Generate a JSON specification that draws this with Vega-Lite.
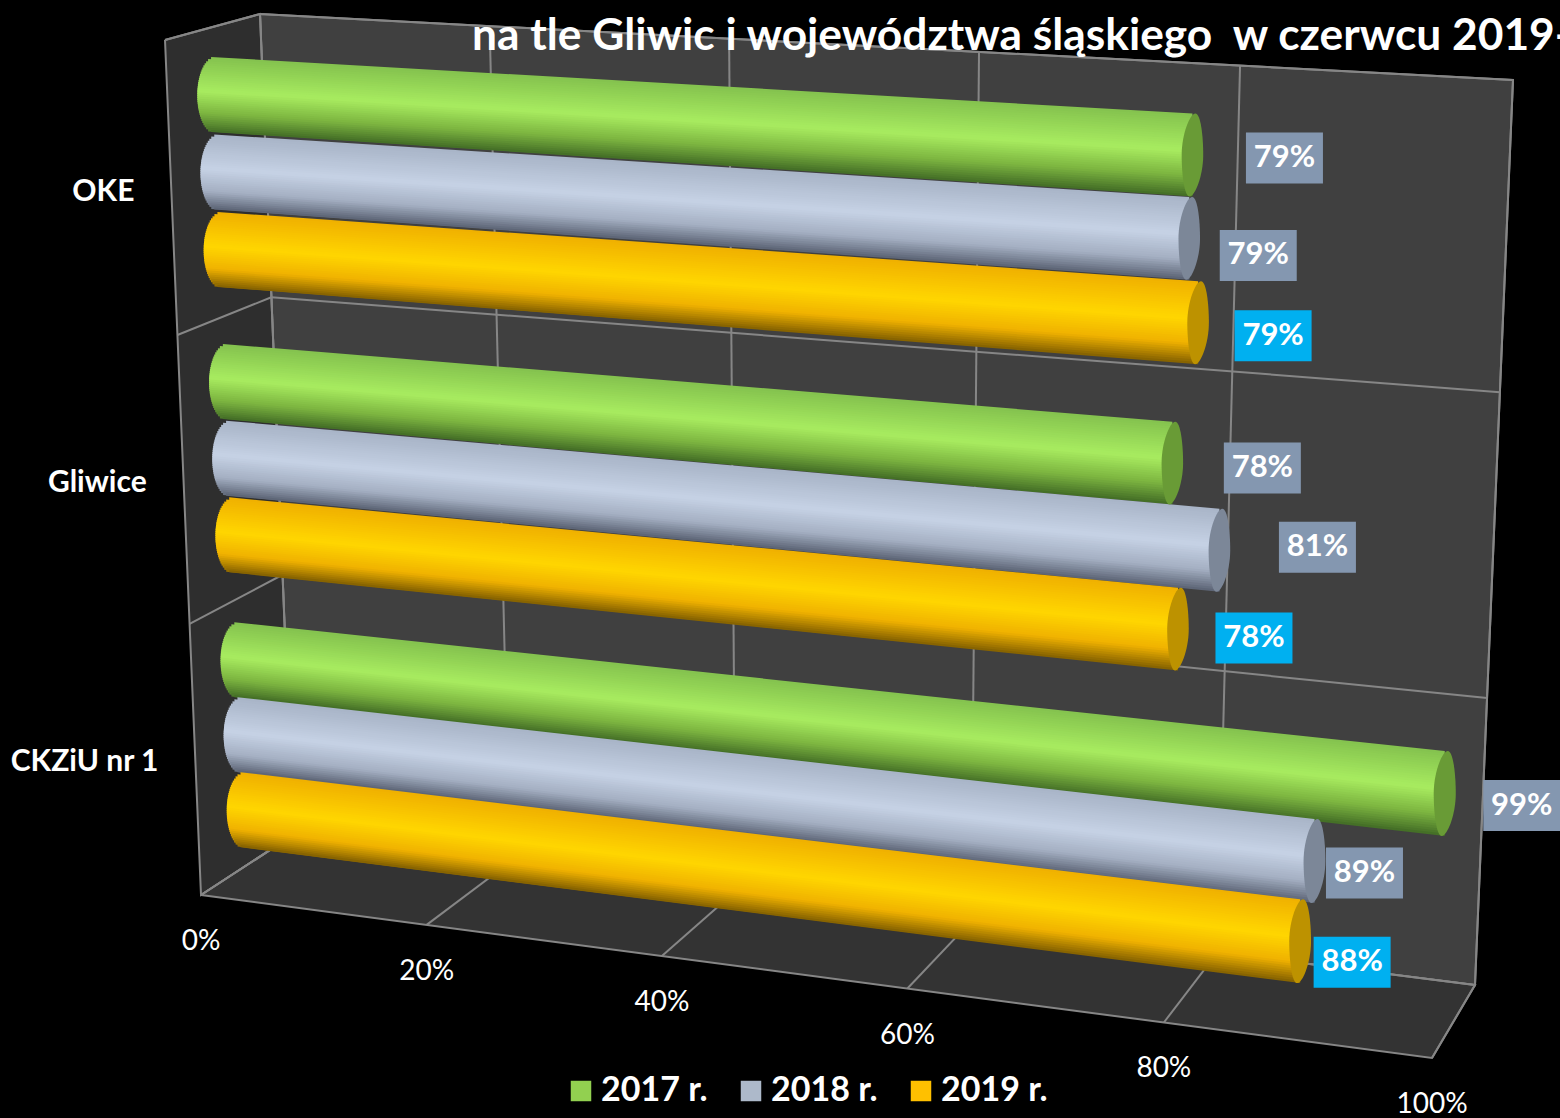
{
"$schema":"https://vega.github.io/schema/vega-lite/v6.json",
"width":1560,"height":1118,"autosize":{"type":"none"},"padding":0,"background":"#000000",
"config":{"view":{"stroke":null}},
"datasets":{
"bars":[
{"group":"OKE","year":"2017 r.","value":78.7},{"group":"OKE","year":"2018 r.","value":78.6},{"group":"OKE","year":"2019 r.","value":79.4},
{"group":"Gliwice","year":"2017 r.","value":77.7},{"group":"Gliwice","year":"2018 r.","value":81.4},{"group":"Gliwice","year":"2019 r.","value":78.4},
{"group":"CKZiU nr 1","year":"2017 r.","value":98.7},{"group":"CKZiU nr 1","year":"2018 r.","value":89.2},{"group":"CKZiU nr 1","year":"2019 r.","value":88.3}],
"ticks":[{"pct":0},{"pct":20},{"pct":40},{"pct":60},{"pct":80},{"pct":100}],
"rows":[{"q":0},{"q":0.345},{"q":0.683},{"q":1}],
"walls":[
{"wall":"left","step":0,"a":0,"q":0,"w":1},{"wall":"left","step":1,"a":0,"q":0,"w":0},{"wall":"left","step":2,"a":0,"q":1,"w":0},{"wall":"left","step":3,"a":0,"q":1,"w":1},{"wall":"left","step":4,"a":0,"q":0,"w":1},
{"wall":"floor","step":0,"a":0,"q":1,"w":1},{"wall":"floor","step":1,"a":0,"q":1,"w":0},{"wall":"floor","step":2,"a":1,"q":1,"w":0},{"wall":"floor","step":3,"a":1,"q":1,"w":1},{"wall":"floor","step":4,"a":0,"q":1,"w":1},
{"wall":"back","step":0,"a":0,"q":0,"w":0},{"wall":"back","step":1,"a":1,"q":0,"w":0},{"wall":"back","step":2,"a":1,"q":1,"w":0},{"wall":"back","step":3,"a":0,"q":1,"w":0},{"wall":"back","step":4,"a":0,"q":0,"w":0}],
"heading":[{"text":"na tle Gliwic i województwa śląskiego\u00a0 w czerwcu 2019-"}]
},
"layer":[
{"data":{"name":"walls"},"transform":[{"filter":"datum.wall=='back'"},
 {"calculate":"260+33*datum.q-95*datum.w+3*datum.q*datum.w+(1253-71*datum.q+49*datum.w)*datum.a","as":"px"},
 {"calculate":"14+821*datum.q+26*datum.w+34*datum.q*datum.w+(66+84*datum.q+12*datum.w+datum.q*datum.w)*datum.a","as":"py"}],
 "mark":{"type":"line","fill":"#404040","stroke":"#868686","strokeWidth":2},
 "encoding":{"x":{"field":"px","type":"quantitative","scale":{"domain":[0,1560]},"axis":null},"y":{"field":"py","type":"quantitative","scale":{"domain":[0,1118],"reverse":true},"axis":null},"order":{"field":"step"}}},
{"data":{"name":"walls"},"transform":[{"filter":"datum.wall=='left'"},
 {"calculate":"260+33*datum.q-95*datum.w+3*datum.q*datum.w+(1253-71*datum.q+49*datum.w)*datum.a","as":"px"},
 {"calculate":"14+821*datum.q+26*datum.w+34*datum.q*datum.w+(66+84*datum.q+12*datum.w+datum.q*datum.w)*datum.a","as":"py"}],
 "mark":{"type":"line","fill":"#2e2e2e","stroke":"#868686","strokeWidth":2},
 "encoding":{"x":{"field":"px","type":"quantitative","scale":{"domain":[0,1560]},"axis":null},"y":{"field":"py","type":"quantitative","scale":{"domain":[0,1118],"reverse":true},"axis":null},"order":{"field":"step"}}},
{"data":{"name":"walls"},"transform":[{"filter":"datum.wall=='floor'"},
 {"calculate":"260+33*datum.q-95*datum.w+3*datum.q*datum.w+(1253-71*datum.q+49*datum.w)*datum.a","as":"px"},
 {"calculate":"14+821*datum.q+26*datum.w+34*datum.q*datum.w+(66+84*datum.q+12*datum.w+datum.q*datum.w)*datum.a","as":"py"}],
 "mark":{"type":"line","fill":"#333333","stroke":"#868686","strokeWidth":2},
 "encoding":{"x":{"field":"px","type":"quantitative","scale":{"domain":[0,1560]},"axis":null},"y":{"field":"py","type":"quantitative","scale":{"domain":[0,1118],"reverse":true},"axis":null},"order":{"field":"step"}}},
{"data":{"name":"ticks"},"transform":[{"calculate":"datum.pct/100","as":"a"},{"calculate":"datum.a/(1+0.114*(1-datum.a))","as":"t"},
 {"calculate":"260+1253*datum.t","as":"x1"},{"calculate":"14+66*datum.t","as":"y1"},{"calculate":"293+1182*datum.t","as":"x2"},{"calculate":"835+150*datum.t","as":"y2"}],
 "mark":{"type":"rule","stroke":"#868686","strokeWidth":2},
 "encoding":{"x":{"field":"x1","type":"quantitative","scale":{"domain":[0,1560]},"axis":null},"y":{"field":"y1","type":"quantitative","scale":{"domain":[0,1118],"reverse":true},"axis":null},"x2":{"field":"x2"},"y2":{"field":"y2"}}},
{"data":{"name":"ticks"},"transform":[{"calculate":"datum.pct/100","as":"a"},{"calculate":"datum.a/(1+0.114*(1-datum.a))","as":"t"},
 {"calculate":"293+1182*datum.t","as":"x1"},{"calculate":"835+150*datum.t","as":"y1"},{"calculate":"201+1231*datum.t","as":"x2"},{"calculate":"895+163*datum.t","as":"y2"}],
 "mark":{"type":"rule","stroke":"#868686","strokeWidth":2},
 "encoding":{"x":{"field":"x1","type":"quantitative","scale":{"domain":[0,1560]},"axis":null},"y":{"field":"y1","type":"quantitative","scale":{"domain":[0,1118],"reverse":true},"axis":null},"x2":{"field":"x2"},"y2":{"field":"y2"}}},
{"data":{"name":"rows"},"transform":[
 {"calculate":"260+33*datum.q","as":"x1"},{"calculate":"14+821*datum.q","as":"y1"},{"calculate":"1513-38*datum.q","as":"x2"},{"calculate":"80+905*datum.q","as":"y2"}],
 "mark":{"type":"rule","stroke":"#868686","strokeWidth":2},
 "encoding":{"x":{"field":"x1","type":"quantitative","scale":{"domain":[0,1560]},"axis":null},"y":{"field":"y1","type":"quantitative","scale":{"domain":[0,1118],"reverse":true},"axis":null},"x2":{"field":"x2"},"y2":{"field":"y2"}}},
{"data":{"name":"rows"},"transform":[
 {"calculate":"165+36*datum.q","as":"x1"},{"calculate":"40+855*datum.q","as":"y1"},{"calculate":"260+33*datum.q","as":"x2"},{"calculate":"14+821*datum.q","as":"y2"}],
 "mark":{"type":"rule","stroke":"#868686","strokeWidth":2},
 "encoding":{"x":{"field":"x1","type":"quantitative","scale":{"domain":[0,1560]},"axis":null},"y":{"field":"y1","type":"quantitative","scale":{"domain":[0,1118],"reverse":true},"axis":null},"x2":{"field":"x2"},"y2":{"field":"y2"}}},
{"data":{"name":"bars"},"transform":[
 {"calculate":"indexof(['OKE','Gliwice','CKZiU nr 1'],datum.group)","as":"g"},
 {"calculate":"indexof(['2017 r.','2018 r.','2019 r.'],datum.year)","as":"k"},
 {"calculate":"[0.0805,0.423,0.755][datum.g]+[0.0925,0.0915,0.0895][datum.g]*datum.k","as":"q"},
 {"calculate":"[0,datum.value/100]","as":"a"},{"flatten":["a"]},
 {"calculate":"[0,1,2,3,4,5,6,7,8,9,10,11,12,13,14,15,16,17,18,19,20,21,22,23,24,25,26,27,28,29,30,31,32,33,34,35]","as":"b"},{"flatten":["b"]},
 {"calculate":"(datum.b+0.5)/36","as":"f"},
 {"calculate":"datum.a/(1+0.114*(1-datum.a))","as":"t"},
 {"calculate":"37.5+5*datum.a","as":"h"},
 {"calculate":"260+33*datum.q-47.5+1.5*datum.q+(1253-71*datum.q+24.5)*datum.t-(datum.a==0?18*sqrt(1-pow(2*datum.f-1,2)):0)","as":"cx"},
 {"calculate":"14+821*datum.q+13+17*datum.q+(66+84*datum.q+6+0.5*datum.q)*datum.t","as":"cy"},
 {"calculate":"datum.cy+datum.h*(2*datum.b/36-1)","as":"top"},
 {"calculate":"datum.cy+datum.h*(2*(datum.b+1)/36-1)+(datum.b<35?1.5:0)","as":"bot"},
 {"calculate":"{'2017 r.':[[132,194,78],[168,236,96],[124,180,64],[66,108,38]],'2018 r.':[[168,180,199],[198,210,229],[164,175,194],[90,98,115]],'2019 r.':[[240,176,0],[255,214,0],[240,178,0],[130,95,0]]}[datum.year]","as":"pal"},
 {"calculate":"datum.f<0.45?0:(datum.f<0.75?1:2)","as":"i"},
 {"calculate":"datum.i==0?datum.f/0.45:(datum.i==1?(datum.f-0.45)/0.3:(datum.f-0.75)/0.25)","as":"m"},
 {"calculate":"'rgb('+round(datum.pal[datum.i][0]+(datum.pal[datum.i+1][0]-datum.pal[datum.i][0])*datum.m)+','+round(datum.pal[datum.i][1]+(datum.pal[datum.i+1][1]-datum.pal[datum.i][1])*datum.m)+','+round(datum.pal[datum.i][2]+(datum.pal[datum.i+1][2]-datum.pal[datum.i][2])*datum.m)+')'","as":"shade"},
 {"calculate":"datum.group+datum.year+datum.b","as":"strip"}],
 "mark":{"type":"area","orient":"vertical","interpolate":"linear"},
 "encoding":{"x":{"field":"cx","type":"quantitative","scale":{"domain":[0,1560]},"axis":null},"y":{"field":"top","type":"quantitative","scale":{"domain":[0,1118],"reverse":true},"axis":null,"stack":null},"y2":{"field":"bot"},
  "color":{"field":"shade","type":"nominal","scale":null},"detail":{"field":"strip"}}},
{"data":{"name":"bars"},"transform":[
 {"calculate":"indexof(['OKE','Gliwice','CKZiU nr 1'],datum.group)","as":"g"},
 {"calculate":"indexof(['2017 r.','2018 r.','2019 r.'],datum.year)","as":"k"},
 {"calculate":"[0.0805,0.423,0.755][datum.g]+[0.0925,0.0915,0.0895][datum.g]*datum.k","as":"q"},
 {"calculate":"datum.value/100","as":"a"},
 {"calculate":"datum.a/(1+0.114*(1-datum.a))","as":"t"},
 {"calculate":"4*pow(37.5+5*datum.a,2)","as":"r2"},
 {"calculate":"260+33*datum.q-47.5+1.5*datum.q+(1253-71*datum.q+24.5)*datum.t","as":"cx"},
 {"calculate":"14+821*datum.q+13+17*datum.q+(66+84*datum.q+6+0.5*datum.q)*datum.t","as":"cy"}],
 "mark":{"type":"point","filled":true,"opacity":1,"strokeWidth":0,"shape":"M0.07,-1C0.2,-1 0.26,-0.45 0.26,0C0.26,0.5 0.06,1 -0.07,1C-0.2,1 -0.26,0.45 -0.26,0C-0.26,-0.5 -0.06,-1 0.07,-1Z"},
 "encoding":{"x":{"field":"cx","type":"quantitative","scale":{"domain":[0,1560]},"axis":null},"y":{"field":"cy","type":"quantitative","scale":{"domain":[0,1118],"reverse":true},"axis":null},
  "size":{"field":"r2","type":"quantitative","scale":null},
  "color":{"field":"year","type":"nominal","scale":{"domain":["2017 r.","2018 r.","2019 r."],"range":["#699b36","#7c8798","#bd9200"]},"legend":null}}},
{"data":{"name":"bars"},"transform":[
 {"calculate":"indexof(['OKE','Gliwice','CKZiU nr 1'],datum.group)","as":"g"},
 {"calculate":"indexof(['2017 r.','2018 r.','2019 r.'],datum.year)","as":"k"},
 {"calculate":"datum.g*3+datum.k","as":"n"},
 {"calculate":"[0.0805,0.423,0.755][datum.g]+[0.0925,0.0915,0.0895][datum.g]*datum.k","as":"q"},
 {"calculate":"datum.value/100","as":"a"},
 {"calculate":"datum.a/(1+0.114*(1-datum.a))","as":"t"},
 {"calculate":"260+33*datum.q-47.5+1.5*datum.q+(1253-71*datum.q+24.5)*datum.t+[92,69,75,90,98,76,77,50,52][datum.n]","as":"lx"},
 {"calculate":"14+821*datum.q+13+17*datum.q+(66+84*datum.q+6+0.5*datum.q)*datum.t+[3,17,13,5,-3,9,12,12,21][datum.n]","as":"ly"},
 {"calculate":"datum.lx-38.5","as":"l"},{"calculate":"datum.lx+38.5","as":"r"},{"calculate":"datum.ly-25.5","as":"u"},{"calculate":"datum.ly+25.5","as":"d"}],
 "mark":{"type":"rect"},
 "encoding":{"x":{"field":"l","type":"quantitative","scale":{"domain":[0,1560]},"axis":null},"x2":{"field":"r"},"y":{"field":"u","type":"quantitative","scale":{"domain":[0,1118],"reverse":true},"axis":null},"y2":{"field":"d"},
  "color":{"field":"year","type":"nominal","scale":{"domain":["2017 r.","2018 r.","2019 r."],"range":["#8497b0","#8497b0","#00b0f0"]},"legend":null}}},
{"data":{"name":"bars"},"transform":[
 {"calculate":"indexof(['OKE','Gliwice','CKZiU nr 1'],datum.group)","as":"g"},
 {"calculate":"indexof(['2017 r.','2018 r.','2019 r.'],datum.year)","as":"k"},
 {"calculate":"datum.g*3+datum.k","as":"n"},
 {"calculate":"[0.0805,0.423,0.755][datum.g]+[0.0925,0.0915,0.0895][datum.g]*datum.k","as":"q"},
 {"calculate":"datum.value/100","as":"a"},
 {"calculate":"datum.a/(1+0.114*(1-datum.a))","as":"t"},
 {"calculate":"260+33*datum.q-47.5+1.5*datum.q+(1253-71*datum.q+24.5)*datum.t+[92,69,75,90,98,76,77,50,52][datum.n]","as":"lx"},
 {"calculate":"14+821*datum.q+13+17*datum.q+(66+84*datum.q+6+0.5*datum.q)*datum.t+[3,17,13,5,-3,9,12,12,21][datum.n]","as":"ly"},
 {"calculate":"format(datum.value,'.0f')+'%'","as":"label"}],
 "mark":{"type":"text","font":"Lato","fontWeight":"bold","fontSize":31,"color":"#ffffff","align":"center","baseline":"middle"},
 "encoding":{"x":{"field":"lx","type":"quantitative","scale":{"domain":[0,1560]},"axis":null},"y":{"field":"ly","type":"quantitative","scale":{"domain":[0,1118],"reverse":true},"axis":null},"text":{"field":"label"}}},
{"data":{"name":"ticks"},"transform":[{"calculate":"datum.pct/100","as":"a"},{"calculate":"datum.a/(1+0.114*(1-datum.a))","as":"t"},
 {"calculate":"201+1231*datum.t","as":"lx"},{"calculate":"895+163*datum.t+47","as":"ly"},{"calculate":"datum.pct+'%'","as":"label"}],
 "mark":{"type":"text","font":"Lato","fontSize":28,"color":"#ffffff","align":"center","baseline":"middle"},
 "encoding":{"x":{"field":"lx","type":"quantitative","scale":{"domain":[0,1560]},"axis":null},"y":{"field":"ly","type":"quantitative","scale":{"domain":[0,1118],"reverse":true},"axis":null},"text":{"field":"label"}}},
{"data":{"name":"bars"},"transform":[{"filter":"datum.year=='2017 r.'"},
 {"calculate":"[0.178,0.518,0.845][indexof(['OKE','Gliwice','CKZiU nr 1'],datum.group)]","as":"q"},
 {"calculate":"165+36*datum.q-37","as":"lx"},{"calculate":"40+855*datum.q","as":"ly"}],
 "mark":{"type":"text","font":"Lato","fontWeight":"bold","fontSize":30,"color":"#ffffff","align":"right","baseline":"middle"},
 "encoding":{"x":{"field":"lx","type":"quantitative","scale":{"domain":[0,1560]},"axis":null},"y":{"field":"ly","type":"quantitative","scale":{"domain":[0,1118],"reverse":true},"axis":null},"text":{"field":"group"}}},
{"data":{"name":"heading"},
 "mark":{"type":"text","font":"Lato","fontWeight":"bold","fontSize":44.3,"color":"#ffffff","align":"left","baseline":"middle"},
 "encoding":{"x":{"datum":472,"type":"quantitative","scale":{"domain":[0,1560]},"axis":null},"y":{"datum":37,"type":"quantitative","scale":{"domain":[0,1118],"reverse":true},"axis":null},"text":{"field":"text"}}},
{"data":{"name":"bars"},"transform":[{"calculate":"215","as":"lx"},{"calculate":"95","as":"ly"}],
 "mark":{"type":"point","filled":true,"opacity":0},
 "encoding":{"x":{"field":"lx","type":"quantitative","scale":{"domain":[0,1560]},"axis":null},"y":{"field":"ly","type":"quantitative","scale":{"domain":[0,1118],"reverse":true},"axis":null},
  "color":{"field":"year","type":"nominal","scale":{"domain":["2017 r.","2018 r.","2019 r."],"range":["#92d050","#adb9ca","#ffc000"]},
   "legend":{"title":null,"orient":"none","legendX":564,"legendY":1074,"direction":"horizontal","columns":3,"symbolType":"square","symbolSize":420,"symbolOpacity":1,"symbolStrokeWidth":0,"labelFont":"Lato","labelFontWeight":"bold","labelFontSize":34,"labelColor":"#ffffff","columnPadding":26,"labelOffset":3}}}}
],
"resolve":{"scale":{"color":"independent"}}
}
